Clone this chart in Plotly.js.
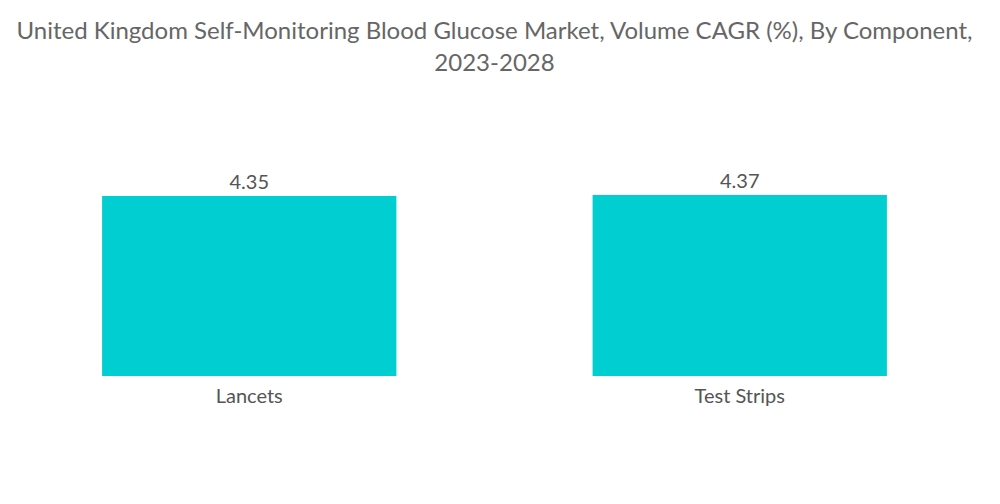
<!DOCTYPE html>
<html>
<head>
<meta charset="utf-8">
<script src="https://cdn.plot.ly/plotly-3.0.1.min.js"></script>
<style>html,body{margin:0;padding:0;background:#fff;}#chart{width:1000px;height:504px;}</style>
</head>
<body>
<div id="chart"></div>
<script>
const categories = ["Lancets", "Test Strips"];
const values = [4.35, 4.37];
const valueLabels = ["4.35", "4.37"];

const trace = {
  type: "bar",
  x: categories,
  y: values,
  text: valueLabels,
  textposition: "outside",
  textfont: {family: "Lato, 'Open Sans', sans-serif", size: 20, color: "#555555"},
  cliponaxis: false,
  marker: {color: "#00CED1"},
  hoverinfo: "none"
};

const layout = {
  width: 1000,
  height: 504,
  margin: {l: 4, r: 15, t: 150, b: 128},
  paper_bgcolor: "#ffffff",
  plot_bgcolor: "#ffffff",
  showlegend: false,
  bargap: 0.4,
  title: {
    text: "United Kingdom Self-Monitoring Blood Glucose Market, Volume CAGR (%), By Component,<br>2023-2028",
    font: {family: "Lato, 'Open Sans', sans-serif", size: 24, color: "#666666"},
    x: 0.5, xanchor: "center", xref: "paper",
    y: 0.922, yanchor: "top", yref: "container"
  },
  xaxis: {
    showgrid: false, zeroline: false, showline: false,
    ticks: "outside", ticklen: 2, tickcolor: "rgba(0,0,0,0)",
    tickfont: {family: "Lato, 'Open Sans', sans-serif", size: 20, color: "#555555"}
  },
  yaxis: {
    range: [0, 5.46], visible: false, showgrid: false, zeroline: false
  }
};

Plotly.newPlot("chart", [trace], layout, {staticPlot: true, displayModeBar: false});
</script>
</body>
</html>
